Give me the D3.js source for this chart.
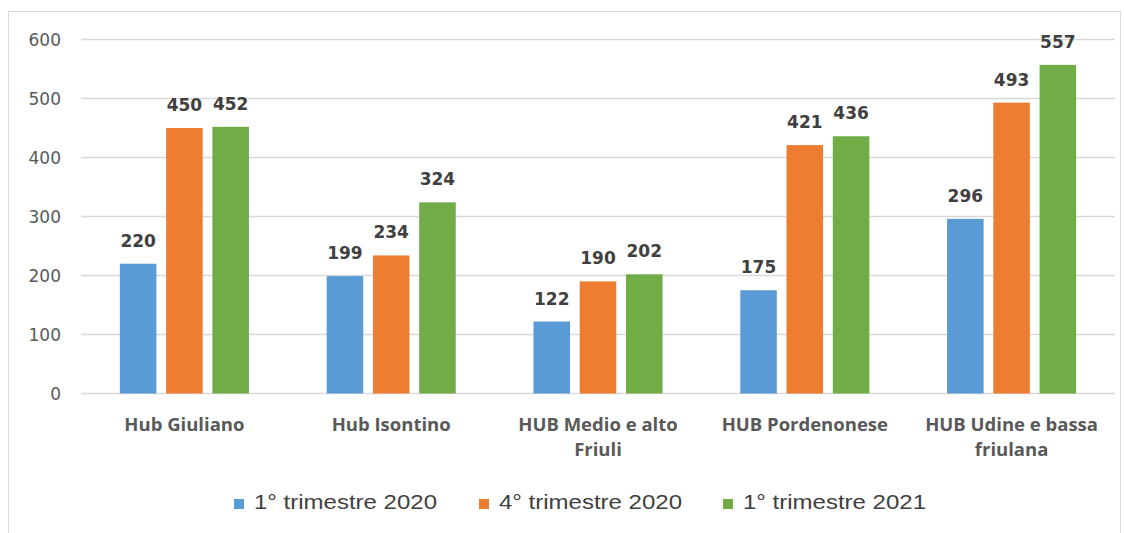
<!DOCTYPE html>
<html><head><meta charset="utf-8">
<script src="https://cdn.jsdelivr.net/npm/d3@7"></script>
<style>html,body{margin:0;padding:0;background:#fff;}svg{display:block;}</style>
</head><body>
<svg id="c" width="1124" height="533"></svg>
<script>
const categories = [["Hub Giuliano"],["Hub Isontino"],["HUB Medio e alto","Friuli"],["HUB Pordenonese"],["HUB Udine e bassa","friulana"]];
const seriesNames = ["1° trimestre 2020","4° trimestre 2020","1° trimestre 2021"];
const q1_2020 = [220,199,122,175,296];
const q4_2020 = [450,234,190,421,493];
const q1_2021 = [452,324,202,436,557];
const yTicks = [0,100,200,300,400,500,600];
const colors = ["#5B9BD5","#ED7D31","#70AD47"];
const series = [q1_2020,q4_2020,q1_2021];

const svg = d3.select("#c");
svg.append("rect").attr("x",8.5).attr("y",11.5).attr("width",1112).attr("height",540)
  .attr("fill","#fff").attr("stroke","#d9d9d9");

const x0 = d3.scaleBand().domain(d3.range(categories.length)).range([81,1115]).paddingInner(0).paddingOuter(0);
const x1 = d3.scaleBand().domain(d3.range(3)).range([0,x0.bandwidth()]).paddingInner(0.21).paddingOuter(0.84);
const y = d3.scaleLinear().domain([0,600]).range([393.5,39.5]);

// grid
svg.append("g").selectAll("line").data(yTicks).join("line")
  .attr("x1",81).attr("x2",1115).attr("y1",d=>y(d)).attr("y2",d=>y(d))
  .attr("stroke","#d9d9d9").attr("stroke-width",1.3);

// y labels
const yAxis = d3.axisLeft(y).tickValues(yTicks).tickSize(0).tickPadding(0);
const ya = svg.append("g").attr("transform","translate(61,0)").call(yAxis);
ya.select(".domain").remove();
ya.selectAll("text").attr("font-family","'DejaVu Sans', Verdana, sans-serif").attr("font-size",17).attr("fill","#595959").attr("dy","0.36em");

// bars
series.forEach((s,si)=>{
  svg.append("g").selectAll("rect").data(s).join("rect")
    .attr("x",(d,i)=>x0(i)+x1(si)).attr("width",x1.bandwidth())
    .attr("y",d=>y(d)).attr("height",d=>y(0)-y(d)).attr("fill",colors[si]);
  svg.append("g").selectAll("text").data(s).join("text")
    .attr("x",(d,i)=>x0(i)+x1(si)+x1.bandwidth()/2).attr("y",d=>y(d)-17)
    .attr("text-anchor","middle").attr("font-family","'DejaVu Sans', Verdana, sans-serif")
    .attr("font-weight","bold").attr("font-size",17).attr("fill","#404040").text(d=>d);
});

// category labels
const cg = svg.append("g");
categories.forEach((lines,i)=>{
  const cx = x0(i)+x0.bandwidth()/2;
  const t = cg.append("text").attr("x",cx).attr("y",431)
    .attr("text-anchor","middle").attr("font-family","'Open Sans', sans-serif")
    .attr("font-weight","bold").attr("font-size",18.5).attr("fill","#595959");
  lines.forEach((l,j)=>t.append("tspan").attr("x",cx).attr("dy",j?25:0).text(l));
});

// legend
const legX = [234,479,723];
const lg = svg.append("g");
seriesNames.forEach((n,i)=>{
  lg.append("rect").attr("x",legX[i]).attr("y",499).attr("width",10).attr("height",10).attr("fill",colors[i]);
  lg.append("text").attr("x",legX[i]+20).attr("y",509).attr("font-family","'Liberation Sans',sans-serif")
    .attr("font-size",21).attr("fill","#404040")
    .attr("textLength",183).attr("lengthAdjust","spacingAndGlyphs").text(n);
});
</script>
</body></html>
